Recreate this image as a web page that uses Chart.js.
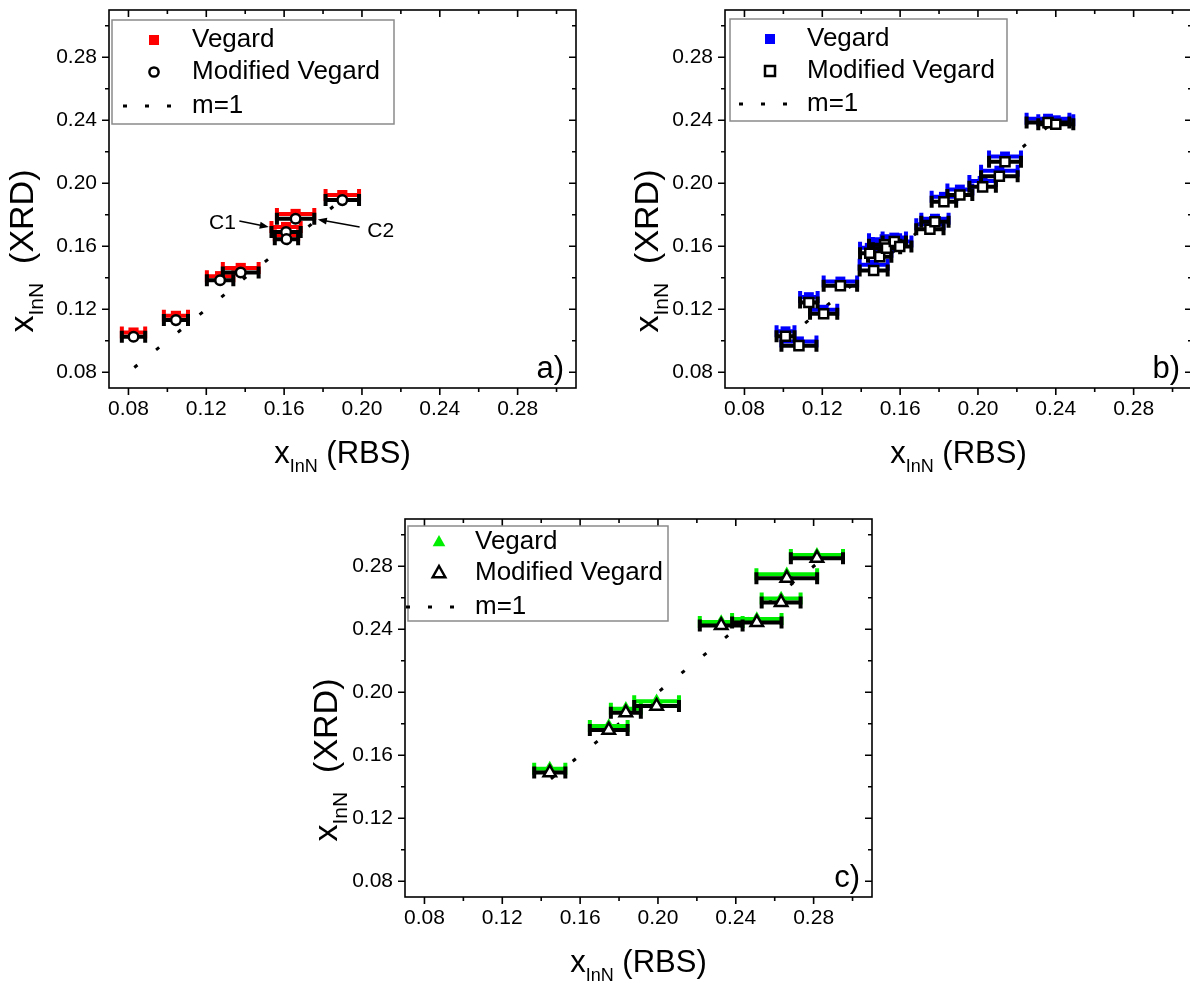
<!DOCTYPE html>
<html>
<head>
<meta charset="utf-8">
<title>InN fraction: XRD vs RBS</title>
<script src="https://cdn.jsdelivr.net/npm/chart.js@4.4.1/dist/chart.umd.min.js"></script>
<style>
  html, body { margin: 0; padding: 0; background: #fff; overflow: hidden; }
  body { width: 1190px; height: 983px; position: relative; }
  canvas { position: absolute; }
</style>
</head>
<body>
<canvas id="chartA" width="582" height="478" style="left:4px;top:0px"></canvas>
<canvas id="chartB" width="582" height="478" style="left:620px;top:0px"></canvas>
<canvas id="chartC" width="582" height="478" style="left:300px;top:509px"></canvas>
<script>
/* x_InN from XRD vs RBS — three panels */
const FONT = '"Liberation Sans", Arial, Helvetica, sans-serif';
const AXIS_MIN = 0.07, AXIS_MAX = 0.31;
const majorTicks = [0.08, 0.12, 0.16, 0.20, 0.24, 0.28];
const minorTicks = [0.10, 0.14, 0.18, 0.22, 0.26, 0.30];

// panel a) red squares / open circles
const aX        = [0.0826, 0.1044, 0.1271, 0.1377, 0.1610, 0.1612, 0.1659, 0.1899];
const aXErr     = [0.0060, 0.0062, 0.0068, 0.0092, 0.0075, 0.0060, 0.0096, 0.0086];
const aVegard   = [0.1052, 0.1158, 0.1410, 0.1462, 0.1722, 0.1670, 0.1805, 0.1925];
const aModified = [0.1025, 0.1131, 0.1384, 0.1433, 0.1690, 0.1645, 0.1775, 0.1893];
const aLine     = [0.083, 0.190];
const aNotes = [
  { text: 'C1', tx: 0.1283, ty: 0.1745, from: [0.1370, 0.1760], to: [0.1521, 0.1722] },
  { text: 'C2', tx: 0.2096, ty: 0.1696, from: [0.1988, 0.1722], to: [0.1773, 0.1770] },
];

// panel b) blue squares / open squares
const bX        = [0.1011, 0.1080, 0.1131, 0.1207, 0.1293, 0.1464, 0.1444, 0.1495, 0.1520, 0.1530, 0.1570,
                   0.1598, 0.1753, 0.1779, 0.1825, 0.1907, 0.2024, 0.2110, 0.2139, 0.2360, 0.2400];
const bXErr     = [0.0046, 0.0090, 0.0045, 0.0070, 0.0086, 0.0072, 0.0050, 0.0060, 0.0080, 0.0070, 0.0060,
                   0.0060, 0.0070, 0.0070, 0.0063, 0.0064, 0.0068, 0.0094, 0.0082, 0.0110, 0.0090];
const bVegard   = [0.1060, 0.0996, 0.1277, 0.1197, 0.1376, 0.1482, 0.1590, 0.1565, 0.1645, 0.1620, 0.1655,
                   0.1630, 0.1740, 0.1775, 0.1914, 0.1960, 0.2015, 0.2080, 0.2170, 0.2410, 0.2400];
const bModified = [0.1028, 0.0969, 0.1243, 0.1172, 0.1349, 0.1446, 0.1556, 0.1534, 0.1610, 0.1588, 0.1630,
                   0.1598, 0.1708, 0.1756, 0.1882, 0.1925, 0.1977, 0.2045, 0.2136, 0.2385, 0.2375];
const bLine     = [0.100, 0.238];

// panel c) green triangles / open triangles
const cX        = [0.1444, 0.1747, 0.1835, 0.1993, 0.2325, 0.2508, 0.2633, 0.2662, 0.2817];
const cXErr     = [0.0080, 0.0097, 0.0077, 0.0115, 0.0110, 0.0127, 0.0100, 0.0156, 0.0134];
const cVegard   = [0.1515, 0.1785, 0.1895, 0.1943, 0.2446, 0.2465, 0.2595, 0.2749, 0.2872];
const cModified = [0.1490, 0.1760, 0.1870, 0.1912, 0.2424, 0.2443, 0.2570, 0.2724, 0.2851];
const cLine     = [0.145, 0.283];

const pts = (xs, ys) => xs.map((x, i) => ({ x, y: ys[i] }));

function drawMarker(ctx, shape, x, y, fill, stroke) {
  ctx.save();
  ctx.beginPath();
  if (shape === 'rect') ctx.rect(x - 5, y - 5, 10, 10);
  else if (shape === 'circle') ctx.arc(x, y, 4.6, 0, Math.PI * 2);
  else { ctx.moveTo(x, y - 7); ctx.lineTo(x + 6.3, y + 4.2); ctx.lineTo(x - 6.3, y + 4.2); ctx.closePath(); }
  ctx.fillStyle = fill; ctx.fill();
  if (stroke) { ctx.strokeStyle = stroke; ctx.lineWidth = 2.5; ctx.stroke(); }
  ctx.restore();
}

// horizontal error bars, drawn just under each dataset's markers
const errorBars = {
  id: 'errorBars',
  beforeDatasetDraw(chart, args) {
    const ds = chart.data.datasets[args.index];
    if (!ds.xErr) return;
    const xs = chart.scales.x, ctx = chart.ctx;
    ctx.save();
    ctx.strokeStyle = ds.errColor;
    ctx.lineWidth = 4;
    ctx.lineCap = 'butt';
    ds.data.forEach((p, i) => {
      const y = args.meta.data[i].y;
      const x0 = xs.getPixelForValue(p.x - ds.xErr[i]);
      const x1 = xs.getPixelForValue(p.x + ds.xErr[i]);
      ctx.beginPath();
      ctx.moveTo(x0, y); ctx.lineTo(x1, y);
      ctx.moveTo(x0, y - 6); ctx.lineTo(x0, y + 6);
      ctx.moveTo(x1, y - 6); ctx.lineTo(x1, y + 6);
      ctx.stroke();
    });
    ctx.restore();
  }
};

// frame with Origin-style ticks: out on bottom/left, in on top/right
const frame = {
  id: 'frame',
  afterDatasetsDraw(chart) {
    const { ctx, chartArea: a, scales } = chart;
    ctx.save();
    ctx.strokeStyle = '#000';
    ctx.lineWidth = 1.6;
    ctx.strokeRect(a.left, a.top, a.right - a.left, a.bottom - a.top);
    ctx.beginPath();
    const tick = (v, len) => {
      const x = scales.x.getPixelForValue(v), y = scales.y.getPixelForValue(v);
      ctx.moveTo(x, a.bottom); ctx.lineTo(x, a.bottom + len);
      ctx.moveTo(x, a.top); ctx.lineTo(x, a.top + len);
      ctx.moveTo(a.left, y); ctx.lineTo(a.left - len, y);
      ctx.moveTo(a.right, y); ctx.lineTo(a.right - len, y);
    };
    majorTicks.forEach(v => tick(v, 7));
    minorTicks.forEach(v => tick(v, 4));
    ctx.stroke();
    ctx.restore();
  }
};

function subText(ctx, cx, cy, rot, parts) {
  ctx.save();
  ctx.translate(cx, cy);
  ctx.rotate(rot);
  ctx.fillStyle = '#000';
  ctx.textBaseline = 'alphabetic';
  ctx.textAlign = 'left';
  let total = 0;
  parts.forEach(p => { ctx.font = p.size + 'px ' + FONT; total += ctx.measureText(p.t).width; });
  let x = -total / 2;
  parts.forEach(p => {
    ctx.font = p.size + 'px ' + FONT;
    ctx.fillText(p.t, x, p.dy || 0);
    x += ctx.measureText(p.t).width;
  });
  ctx.restore();
}

// legend, axis titles, panel letter, notes
const decor = {
  id: 'decor',
  afterDraw(chart, args, o) {
    const { ctx, chartArea: a, scales } = chart;
    const sx = v => scales.x.getPixelForValue(v), sy = v => scales.y.getPixelForValue(v);
    // axis titles
    subText(ctx, (a.left + a.right) / 2, a.bottom + 75, 0,
      [{ t: 'x', size: 31 }, { t: 'InN', size: 18, dy: 9 }, { t: ' (RBS)', size: 31 }]);
    subText(ctx, a.left - o.yTitleOff, (a.top + a.bottom) / 2 + 52, -Math.PI / 2,
      [{ t: 'x', size: 34 }, { t: 'InN', size: 21, dy: 10 }, { t: '  (XRD)', size: 34 }]);
    // panel letter
    ctx.save();
    ctx.fillStyle = '#000';
    ctx.font = '31px ' + FONT;
    ctx.textAlign = 'right';
    ctx.textBaseline = 'alphabetic';
    ctx.fillText(o.letter, a.right - 12, a.bottom - 10);
    ctx.restore();
    // legend
    const L = o.legend;
    const lx = a.left + L.x, ly = a.top + L.y;
    ctx.save();
    ctx.fillStyle = '#fff';
    ctx.fillRect(lx, ly, L.w, L.h);
    ctx.strokeStyle = '#8a8a8a';
    ctx.lineWidth = 1.5;
    ctx.strokeRect(lx, ly, L.w, L.h);
    const mx = a.left + L.mx, tx = a.left + L.tx;
    drawMarker(ctx, o.shape, mx, a.top + L.rows[0], o.color, null);
    drawMarker(ctx, o.modShape, mx, a.top + L.rows[1], '#fff', '#000');
    ctx.strokeStyle = '#000';
    ctx.lineWidth = 3;
    ctx.setLineDash([4, 18]);
    ctx.beginPath();
    ctx.moveTo(a.left + L.l0, a.top + L.rows[2]);
    ctx.lineTo(a.left + L.l0 + 48, a.top + L.rows[2]);
    ctx.stroke();
    ctx.setLineDash([]);
    ctx.fillStyle = '#000';
    ctx.font = '26px ' + FONT;
    ctx.textBaseline = 'middle';
    ctx.fillText('Vegard', tx, a.top + L.rows[0]);
    ctx.fillText('Modified Vegard', tx, a.top + L.rows[1]);
    ctx.fillText('m=1', tx, a.top + L.rows[2]);
    // notes with arrows
    (o.notes || []).forEach(n => {
      ctx.font = '21px ' + FONT;
      ctx.textAlign = 'center';
      ctx.fillText(n.text, sx(n.tx), sy(n.ty));
      const x0 = sx(n.from[0]), y0 = sy(n.from[1]), x1 = sx(n.to[0]), y1 = sy(n.to[1]);
      const ang = Math.atan2(y1 - y0, x1 - x0);
      ctx.lineWidth = 1.5;
      ctx.beginPath(); ctx.moveTo(x0, y0); ctx.lineTo(x1 - 6 * Math.cos(ang), y1 - 6 * Math.sin(ang)); ctx.stroke();
      ctx.beginPath();
      ctx.moveTo(x1, y1);
      ctx.lineTo(x1 - 9 * Math.cos(ang) + 3.5 * Math.sin(ang), y1 - 9 * Math.sin(ang) - 3.5 * Math.cos(ang));
      ctx.lineTo(x1 - 9 * Math.cos(ang) - 3.5 * Math.sin(ang), y1 - 9 * Math.sin(ang) + 3.5 * Math.cos(ang));
      ctx.closePath(); ctx.fill();
    });
    ctx.restore();
  }
};

function axis(isX) {
  return {
    type: 'linear', min: AXIS_MIN, max: AXIS_MAX,
    grid: { display: false, drawTicks: false },
    border: { display: false },
    ticks: { color: '#000', font: { family: FONT, size: 21 }, padding: isX ? 9 : 12,
             maxRotation: 0, callback: v => v.toFixed(2) },
    afterBuildTicks: s => { s.ticks = majorTicks.map(v => ({ value: v })); },
    afterFit: s => {
      if (isX) s.height = 90; else s.width = 105;
      // keep chart area fixed: no extra room for end labels
      s.paddingTop = s.paddingBottom = s.paddingLeft = s.paddingRight = 0;
    },
  };
}

function renderPanel(id, cfg) {
  return new Chart(document.getElementById(id), {
    type: 'scatter',
    data: {
      datasets: [
        { label: 'Modified Vegard', data: pts(cfg.x, cfg.mod), xErr: cfg.xErr, errColor: '#000',
          pointStyle: cfg.modShape, pointRadius: cfg.modRadius, backgroundColor: '#fff',
          borderColor: '#000', borderWidth: 2.5, order: 0 },
        { label: 'Vegard', data: pts(cfg.x, cfg.veg), xErr: cfg.xErr, errColor: cfg.color,
          pointStyle: cfg.shape, pointRadius: cfg.vegRadius, backgroundColor: cfg.color,
          borderColor: cfg.color, borderWidth: 0, order: 1 },
        { type: 'line', label: 'm=1', data: pts(cfg.line, cfg.line), borderColor: '#000',
          borderWidth: 3, borderDash: [4, 24], pointRadius: 0, fill: false, order: 2 },
      ]
    },
    options: {
      responsive: false, animation: false, events: [],
      layout: { padding: { top: 10, right: 10, left: 0, bottom: 0 } },
      scales: { x: axis(true), y: axis(false) },
      plugins: {
        legend: { display: false }, tooltip: { enabled: false },
        decor: cfg.decor,
      },
    },
    plugins: [errorBars, frame, decor],
  });
}

renderPanel('chartA', {
  x: aX, xErr: aXErr, veg: aVegard, mod: aModified, line: aLine, color: '#ff0000',
  shape: 'rect', vegRadius: 7.2, modShape: 'circle', modRadius: 4.8,
  decor: { letter: 'a)', yTitleOff: 76, shape: 'rect', modShape: 'circle', color: '#ff0000', notes: aNotes,
           legend: { x: 3, y: 10, w: 282, h: 104, mx: 45, tx: 83, l0: 14, rows: [30, 62, 96] } },
});

renderPanel('chartB', {
  x: bX, xErr: bXErr, veg: bVegard, mod: bModified, line: bLine, color: '#0000ff',
  shape: 'rect', vegRadius: 7, modShape: 'rect', modRadius: 6.4,
  decor: { letter: 'b)', yTitleOff: 67, shape: 'rect', modShape: 'rect', color: '#0000ff',
           legend: { x: 5, y: 9, w: 277, h: 102, mx: 45, tx: 82, l0: 14, rows: [29, 61, 94] } },
});

renderPanel('chartC', {
  x: cX, xErr: cXErr, veg: cVegard, mod: cModified, line: cLine, color: '#00ee00',
  shape: 'triangle', vegRadius: 7.8, modShape: 'triangle', modRadius: 7.2,
  decor: { letter: 'c)', yTitleOff: 68, shape: 'triangle', modShape: 'triangle', color: '#00ee00',
           legend: { x: 3, y: 7, w: 260, h: 95, mx: 34, tx: 70, l0: 1, rows: [23, 54, 88] } },
});
</script>
</body>
</html>
